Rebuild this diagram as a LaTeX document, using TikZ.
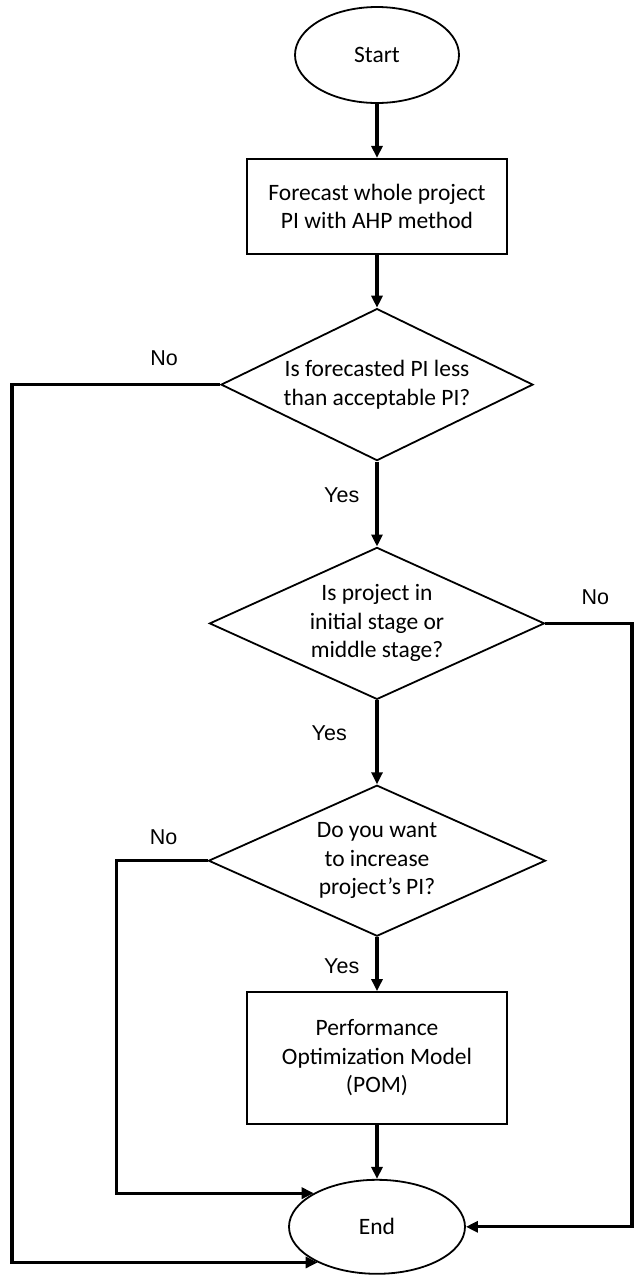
\documentclass[tikz,border=0pt]{standalone}
\usepackage{fontspec}
\usepackage{tikz}
\usetikzlibrary{arrows.meta,positioning,shapes.geometric,calc}
\newfontfamily\boxfont{Carlito}
\newfontfamily\answerfont{Liberation Sans}

\begin{document}
\begin{tikzpicture}[x=1pt, y=1pt,
terminal/.style={draw, ellipse, line width=1.8pt, align=center, inner sep=0pt, minimum width=164pt, minimum height=96pt, font=\boxfont\fontsize{23.5}{28.5}\selectfont},
process/.style={draw, rectangle, line width=1.8pt, align=center, minimum width=260pt, font=\boxfont\fontsize{23.5}{28.5}\selectfont},
decision/.style={draw, diamond, shape aspect=2.2, line width=1.8pt, align=center, inner sep=0pt, font=\boxfont\fontsize{23.5}{28.5}\selectfont},
answer/.style={inner sep=0pt, font=\answerfont\fontsize{21.5}{25}\selectfont},
arrow/.style={-{Triangle[length=12pt, width=11pt]}, line width=3.3pt}
]
\useasboundingbox (0,0) rectangle (634,-1275);
\node[terminal] (start) at (377,-55) {Start};
\node[process, minimum height=95pt, below=54pt of start] (forecast) {Forecast whole project\\PI with AHP method};
\node[decision, minimum width=312pt, minimum height=152pt, below=53pt of forecast] (isless) {Is forecasted PI less\\than acceptable PI?};
\node[decision, minimum width=335pt, minimum height=152pt, below=85pt of isless] (stage) {Is project in\\initial stage or\\middle stage?};
\node[decision, minimum width=337pt, minimum height=151pt, below=84pt of stage] (increase) {Do you want\\to increase\\project’s PI?};
\node[process, minimum height=132pt, below=54pt of increase] (pom) {Performance\\Optimization Model\\(POM)};
\node[terminal, minimum width=176pt, minimum height=94pt, below=54pt of pom] (finish) {End};
% yes / no labels
\node[answer, above left=19pt and 42pt of isless.west] (no1) {No};
\node[answer, below left=26pt and 17.5pt of isless.south] (yes1) {Yes};
\node[answer, above right=18pt and 36pt of stage.east] (no2) {No};
\node[answer, below left=25pt and 30pt of stage.south] (yes2) {Yes};
\node[answer, above left=16pt and 30pt of increase.west] (no3) {No};
\node[answer, below left=21pt and 17.5pt of increase.south] (yes3) {Yes};
% main flow
\draw[arrow] (start) -- (forecast);
\draw[arrow] (forecast) -- (isless);
\draw[arrow] (isless) -- (stage);
\draw[arrow] (stage) -- (increase);
\draw[arrow] (increase) -- (pom);
\draw[arrow] (pom) -- (finish);
% no branches
\draw[arrow] (isless.west) -- ++(-208,0) |- (finish.211);
\draw[arrow] (stage.east) -- ++(86.5,0) |- (finish.east);
\draw[arrow] (increase.west) -- ++(-91,0) |- (finish.152);
\end{tikzpicture}
\end{document}
